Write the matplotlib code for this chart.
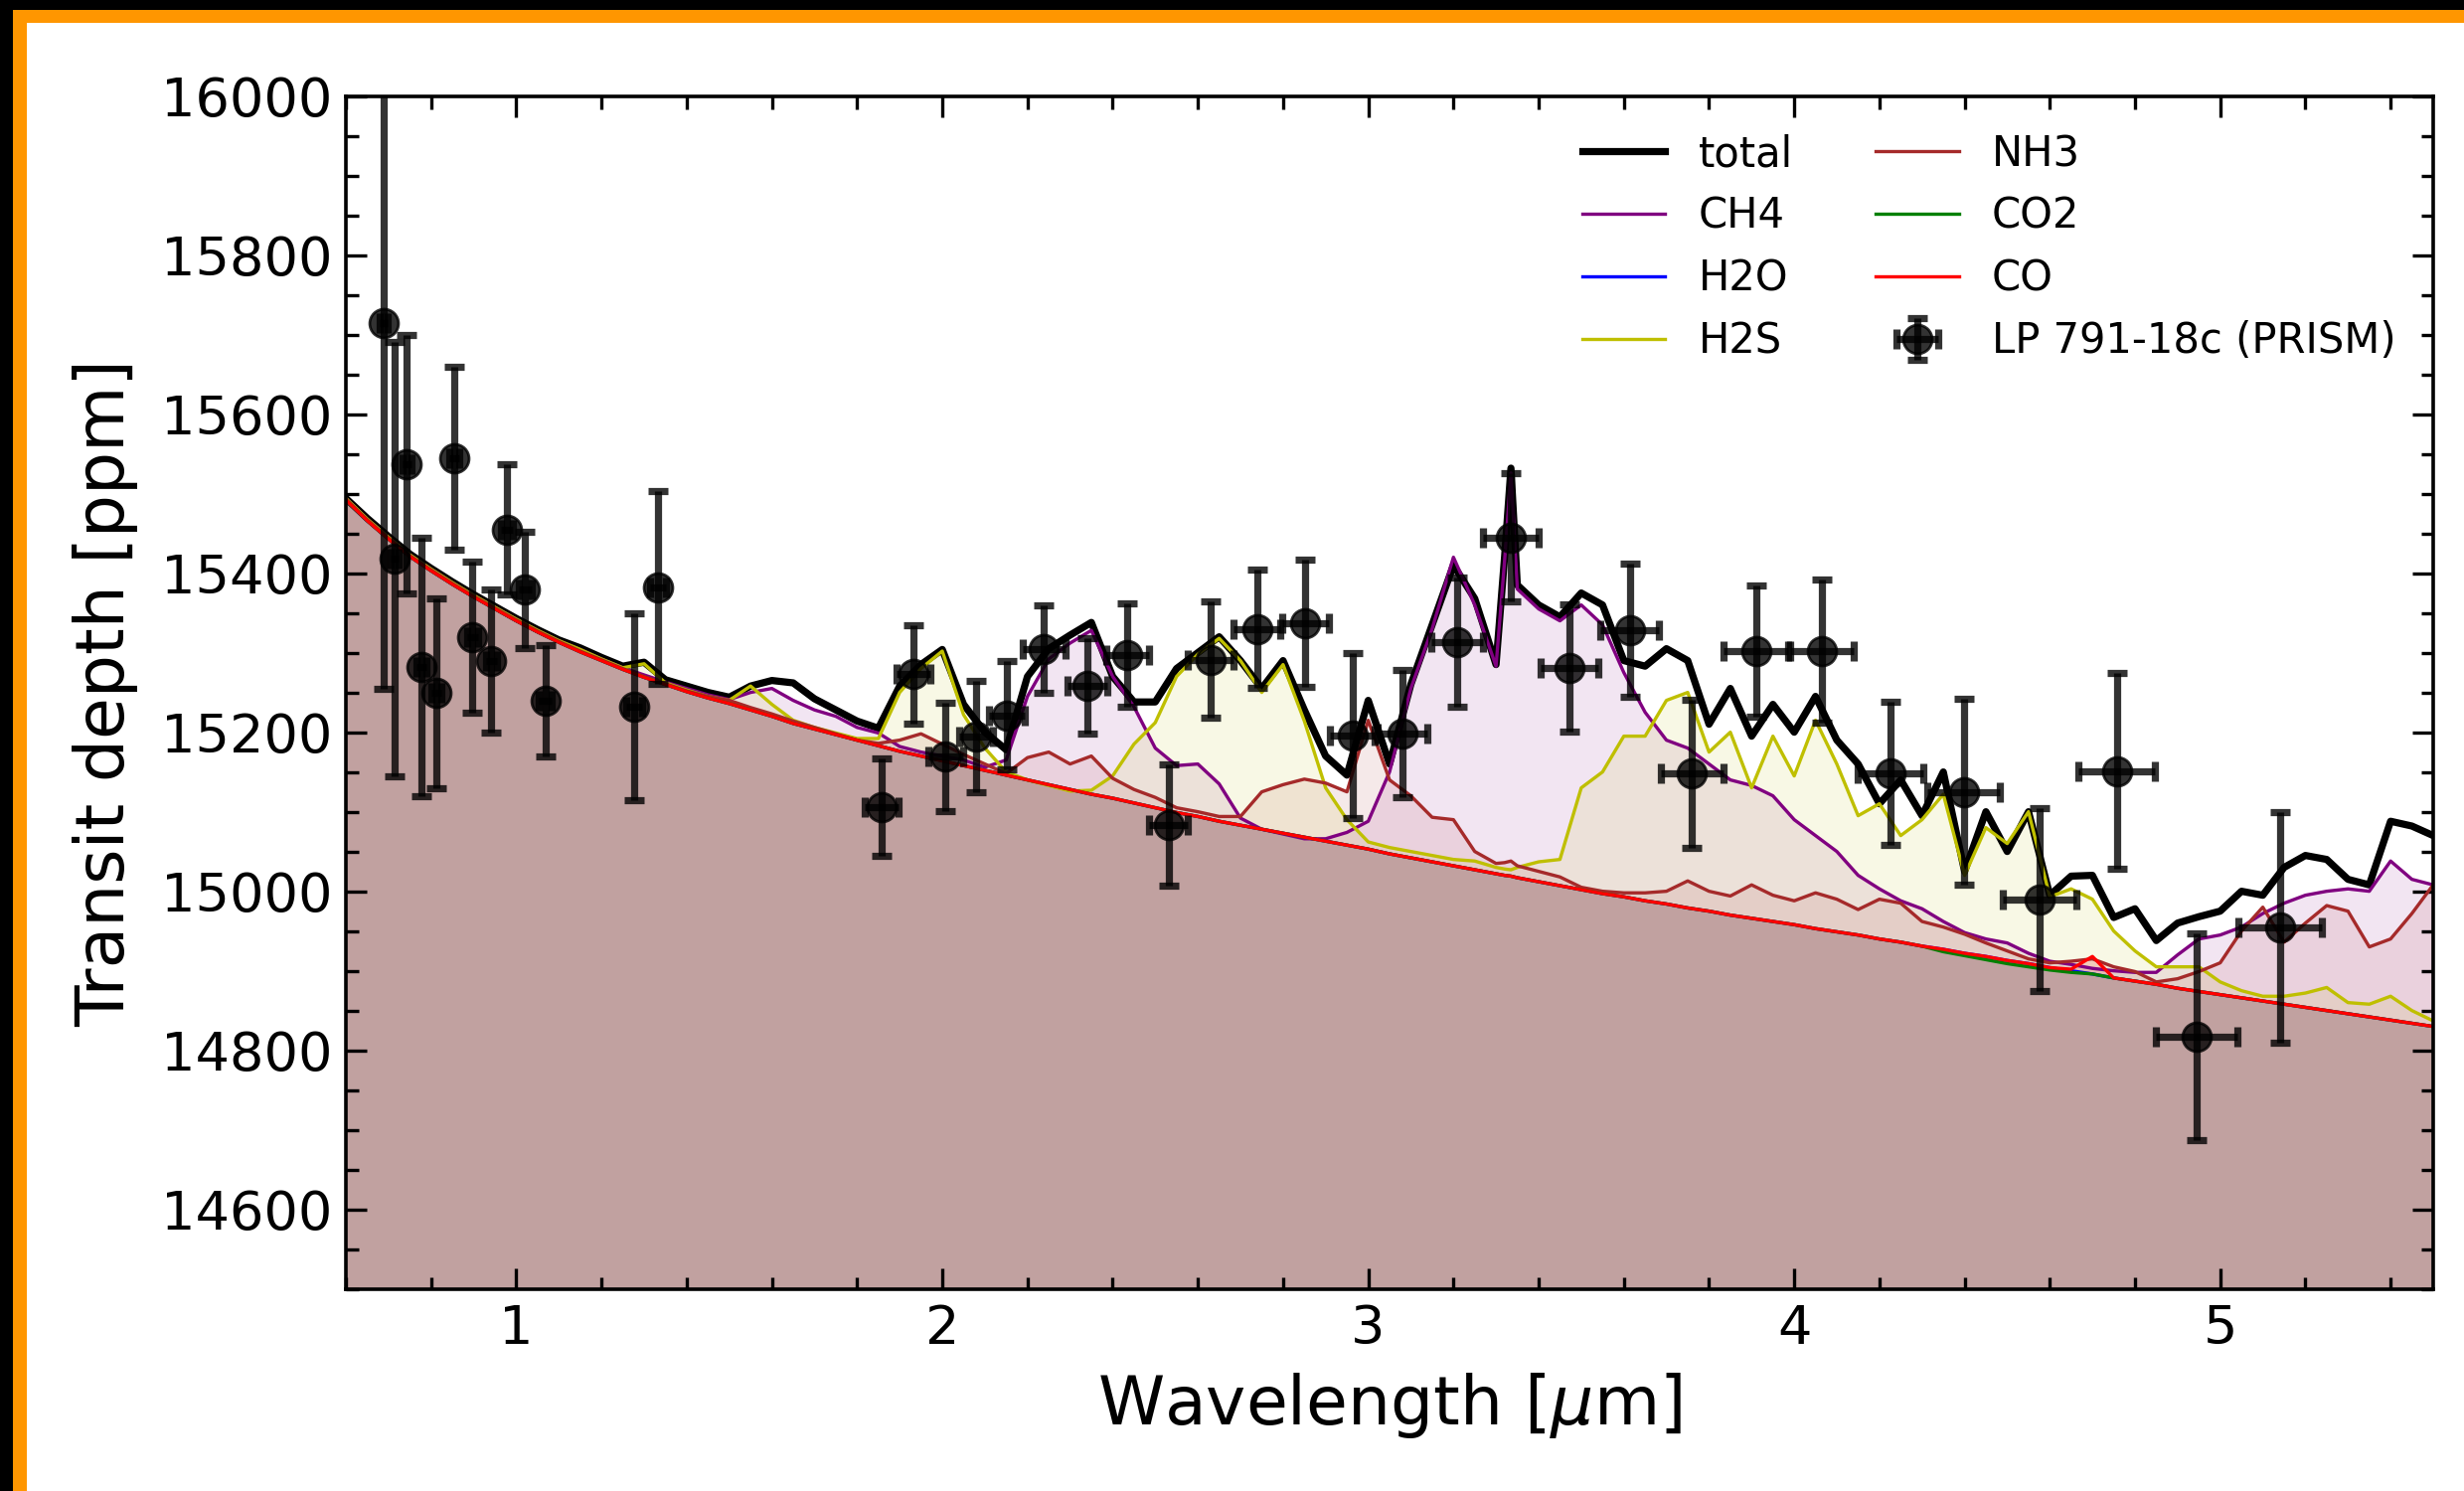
import matplotlib.pyplot as plt
from matplotlib.patches import Rectangle
from matplotlib.ticker import MultipleLocator

# model wavelength grid [micron]
wavelength = [
    0.60, 0.65, 0.70, 0.75, 0.80, 0.85, 0.90, 0.95, 1.00, 1.05,
    1.10, 1.15, 1.20, 1.25, 1.30, 1.35, 1.40, 1.45, 1.50, 1.55,
    1.60, 1.65, 1.70, 1.75, 1.80, 1.85, 1.90, 1.95, 2.00, 2.05,
    2.10, 2.15, 2.20, 2.25, 2.30, 2.35, 2.40, 2.45, 2.50, 2.55,
    2.60, 2.65, 2.70, 2.75, 2.80, 2.85, 2.90, 2.95, 3.00, 3.05,
    3.10, 3.15, 3.20, 3.25, 3.30, 3.32, 3.335, 3.35, 3.40, 3.45,
    3.50, 3.55, 3.60, 3.65, 3.70, 3.75, 3.80, 3.85, 3.90, 3.95,
    4.00, 4.05, 4.10, 4.15, 4.20, 4.25, 4.30, 4.35, 4.40, 4.45,
    4.50, 4.55, 4.60, 4.65, 4.70, 4.75, 4.80, 4.85, 4.90, 4.95,
    5.00, 5.05, 5.10, 5.15, 5.20, 5.25, 5.30, 5.35, 5.40, 5.45,
    5.50]

# transit depth of the full model and of each molecule alone [ppm]
total_depth = [
    15494, 15469, 15446, 15424, 15406, 15389, 15373, 15358, 15343, 15329,
    15316, 15306, 15294, 15283, 15288, 15266, 15258, 15250, 15244, 15258,
    15265, 15262, 15242, 15228, 15214, 15205, 15258, 15285, 15304, 15235,
    15200, 15178, 15270, 15305, 15322, 15338, 15270, 15238, 15238, 15280,
    15300, 15320, 15290, 15255, 15290, 15228, 15170, 15146, 15240, 15160,
    15260, 15335, 15410, 15368, 15285, 15420, 15532, 15385, 15360, 15345,
    15375, 15360, 15290, 15283, 15305, 15290, 15210, 15255, 15195, 15235,
    15200, 15245, 15190, 15160, 15110, 15140, 15095, 15150, 15025, 15100,
    15050, 15100, 14995, 15019, 15020, 14967, 14978, 14938, 14960, 14968,
    14975, 15000, 14995, 15030, 15045, 15040, 15015, 15008, 15088, 15082,
    15070]

ch4_depth = [
    15494, 15468, 15445, 15423, 15405, 15388, 15372, 15357, 15342, 15328,
    15315, 15304, 15292, 15281, 15272, 15263, 15255, 15247, 15241, 15250,
    15255, 15240, 15228, 15220, 15206, 15199, 15182, 15175, 15170, 15165,
    15156, 15165, 15245, 15292, 15312, 15328, 15270, 15232, 15180, 15158,
    15160, 15135, 15092, 15078, 15072, 15066, 15066, 15074, 15088, 15150,
    15255, 15330, 15420, 15360, 15283, 15415, 15526, 15380, 15355, 15340,
    15360, 15335, 15275, 15225, 15190, 15180, 15160, 15140, 15133, 15120,
    15090, 15070, 15050, 15020, 15003, 14988, 14978, 14962, 14948, 14940,
    14935, 14922, 14912, 14908, 14903, 14900, 14898, 14898, 14920, 14940,
    14945, 14955, 14972, 14985, 14995, 15000, 15003, 15000, 15038, 15015,
    15008]

h2o_depth = [
    15492, 15466, 15443, 15421, 15403, 15386, 15370, 15355, 15340, 15326,
    15313, 15301, 15290, 15279, 15269, 15260, 15251, 15243, 15236, 15228,
    15220, 15211, 15204, 15197, 15190, 15183, 15176, 15170, 15164, 15158,
    15152, 15146, 15140, 15134, 15128, 15122, 15117, 15111, 15105, 15099,
    15094, 15088, 15083, 15078, 15073, 15068, 15063, 15058, 15053, 15047,
    15042, 15037, 15032, 15027, 15022, 15020, 15019, 15017, 15012, 15007,
    15002, 14997, 14993, 14988, 14984, 14979, 14975, 14970, 14966, 14962,
    14958, 14953, 14949, 14945, 14940, 14936, 14931, 14927, 14922, 14918,
    14913, 14909, 14904, 14900, 14896, 14891, 14887, 14883, 14878, 14874,
    14870, 14866, 14862, 14858, 14854, 14850, 14846, 14842, 14838, 14834,
    14830]

h2s_depth = [
    15494, 15468, 15445, 15423, 15405, 15388, 15372, 15357, 15342, 15328,
    15315, 15304, 15292, 15281, 15286, 15262, 15253, 15245, 15240, 15258,
    15235, 15215, 15206, 15199, 15192, 15192, 15250, 15280, 15302, 15222,
    15180, 15150, 15140, 15133, 15126, 15127, 15145, 15185, 15212, 15270,
    15298, 15318, 15290, 15250, 15285, 15214, 15130, 15090, 15062, 15055,
    15050, 15045, 15040, 15038, 15030, 15028, 15027, 15030, 15037, 15040,
    15130, 15150, 15195, 15195, 15240, 15250, 15175, 15200, 15130, 15195,
    15145, 15215, 15160, 15095, 15110, 15070, 15090, 15122, 15020, 15080,
    15060, 15100, 14993, 15003, 14990, 14950, 14925, 14905, 14905, 14905,
    14886, 14875, 14868, 14868, 14872, 14879, 14860, 14858, 14868, 14850,
    14837]

nh3_depth = [
    15493, 15467, 15444, 15422, 15404, 15387, 15371, 15356, 15341, 15327,
    15314, 15302, 15291, 15280, 15270, 15261, 15252, 15245, 15240, 15231,
    15223, 15214, 15206, 15198, 15190, 15186, 15190, 15198, 15185, 15172,
    15160, 15148, 15168, 15175, 15160, 15170, 15142, 15128, 15118, 15105,
    15100, 15094, 15094, 15125, 15134, 15141, 15136, 15125, 15215, 15140,
    15120, 15093, 15090, 15050, 15035, 15036, 15038, 15032, 15025, 15018,
    15005, 15000, 14998, 14998, 15000, 15013, 15000, 14994, 15008, 14995,
    14988, 14998, 14990, 14977, 14990, 14985, 14962, 14955, 14946, 14935,
    14925, 14915, 14910, 14912, 14915, 14905, 14899, 14886, 14890, 14899,
    14910, 14950, 14980, 14936, 14960, 14982, 14975, 14930, 14940, 14972,
    15008]

co2_depth = [
    15492, 15466, 15443, 15421, 15403, 15386, 15370, 15355, 15340, 15326,
    15313, 15301, 15290, 15279, 15269, 15260, 15251, 15243, 15236, 15228,
    15220, 15211, 15204, 15197, 15190, 15183, 15176, 15170, 15164, 15158,
    15152, 15146, 15140, 15134, 15128, 15122, 15117, 15111, 15105, 15099,
    15094, 15088, 15083, 15078, 15073, 15068, 15063, 15058, 15053, 15047,
    15042, 15037, 15032, 15027, 15022, 15020, 15019, 15017, 15012, 15007,
    15002, 14997, 14993, 14988, 14984, 14979, 14975, 14970, 14966, 14962,
    14958, 14953, 14949, 14945, 14940, 14936, 14931, 14924, 14919, 14914,
    14909, 14905, 14901, 14898, 14896, 14891, 14887, 14883, 14878, 14874,
    14870, 14866, 14862, 14858, 14854, 14850, 14846, 14842, 14838, 14834,
    14830]

co_depth = [
    15492, 15466, 15443, 15421, 15403, 15386, 15370, 15355, 15340, 15326,
    15313, 15301, 15290, 15279, 15269, 15260, 15251, 15243, 15236, 15228,
    15220, 15211, 15204, 15197, 15190, 15183, 15176, 15170, 15164, 15158,
    15152, 15146, 15140, 15134, 15128, 15122, 15117, 15111, 15105, 15099,
    15094, 15088, 15083, 15078, 15073, 15068, 15063, 15058, 15053, 15047,
    15042, 15037, 15032, 15027, 15022, 15020, 15019, 15017, 15012, 15007,
    15002, 14997, 14993, 14988, 14984, 14979, 14975, 14970, 14966, 14962,
    14958, 14953, 14949, 14945, 14940, 14936, 14931, 14927, 14922, 14918,
    14913, 14909, 14904, 14902, 14918, 14891, 14887, 14883, 14878, 14874,
    14870, 14866, 14862, 14858, 14854, 14850, 14846, 14842, 14838, 14834,
    14830]

# NIRSpec PRISM spectrum
obs_wl = [0.689, 0.714, 0.743, 0.777, 0.813, 0.854, 0.897, 0.941, 0.977,
          1.021, 1.068, 1.277, 1.332, 1.857, 1.933, 2.008, 2.080, 2.151,
          2.239, 2.340, 2.435, 2.531, 2.630, 2.739, 2.852, 2.963, 3.081,
          3.209, 3.335, 3.472, 3.614, 3.760, 3.910, 4.065, 4.226, 4.398,
          4.576, 4.757, 4.945, 5.140]
obs_wl_err = [0.010, 0.010, 0.011, 0.011, 0.012, 0.012, 0.013, 0.013, 0.014,
              0.015, 0.015, 0.018, 0.019, 0.040, 0.040, 0.040, 0.040, 0.042,
              0.050, 0.047, 0.050, 0.045, 0.053, 0.055, 0.055, 0.052, 0.058,
              0.060, 0.066, 0.067, 0.069, 0.073, 0.075, 0.075, 0.077, 0.085,
              0.087, 0.089, 0.095, 0.098]
obs_depth = [15715, 15418, 15537, 15282, 15249, 15544, 15319, 15289, 15455,
             15379, 15240, 15232, 15382, 15106, 15273, 15169, 15195, 15221,
             15305, 15258, 15297, 15083, 15291, 15330, 15337, 15196, 15198,
             15313, 15445, 15281, 15328, 15148, 15302, 15302, 15148, 15125,
             14990, 15151, 14817, 14955]
obs_depth_err = [460, 273, 163, 163, 119, 115, 95, 90, 82,
                 73, 70, 117, 121, 61, 62, 68, 70, 68,
                 55, 60, 65, 76, 73, 74, 80, 104, 80,
                 81, 81, 80, 84, 93, 83, 90, 90, 117,
                 115, 123, 130, 145]

molecules = ['CH4', 'H2O', 'H2S', 'NH3', 'CO2', 'CO']
molecule_depths = [ch4_depth, h2o_depth, h2s_depth, nh3_depth, co2_depth, co_depth]
molecule_colors = ['purple', 'blue', 'y', 'brown', 'green', 'red']

wl_min, wl_max = 0.6, 5.5
depth_min, depth_max = 14500, 16000

W, H = 2479, 1500
fig = plt.figure(figsize=(W / 200, H / 200), dpi=200)

# frame strips along the top and left edges
fig.add_artist(Rectangle((0, 0), 13.4 / W, 1, transform=fig.transFigure,
                         color='black', lw=0))
fig.add_artist(Rectangle((0, 1 - 10 / H), 1, 10 / H, transform=fig.transFigure,
                         color='black', lw=0))
fig.add_artist(Rectangle((13.4 / W, 1 - 22.5 / H), 1, 12.5 / H,
                         transform=fig.transFigure, color='#ff9600', lw=0))
fig.add_artist(Rectangle((13.4 / W, 0), 13.4 / W, 1 - 10 / H,
                         transform=fig.transFigure, color='#ff9600', lw=0))

ax = fig.add_axes([348 / W, 1 - 1296.7 / H, 2100 / W, 1200.2 / H])

ax.plot(wavelength, total_depth, color='k', lw=2.6, label='total')
for name, depth, col in zip(molecules, molecule_depths, molecule_colors):
    ax.plot(wavelength, depth, color=col, lw=1.2, label=name)
    ax.fill_between(wavelength, depth_min, depth, color=col, alpha=0.1, lw=0)

ax.errorbar(obs_wl, obs_depth, yerr=obs_depth_err, xerr=obs_wl_err, fmt='o',
            color='k', ms=10.4, elinewidth=2.6, capsize=3.6, capthick=2.6,
            alpha=0.8, zorder=10, label='LP 791-18c (PRISM)')

ax.set_xlim(wl_min, wl_max)
ax.set_ylim(depth_min, depth_max)
ax.xaxis.set_major_locator(MultipleLocator(1))
ax.xaxis.set_minor_locator(MultipleLocator(0.2))
ax.yaxis.set_major_locator(MultipleLocator(200))
ax.yaxis.set_minor_locator(MultipleLocator(50))
ax.tick_params(which='both', direction='in', top=True, right=True,
               width=1.2, labelsize=19.5, pad=5)
ax.tick_params(which='major', length=7.5)
ax.tick_params(which='minor', length=4.5)
for sp in ax.spines.values():
    sp.set_linewidth(1.3)

ax.set_xlabel(r'Wavelength [$\mu$m]', fontsize=24.5, labelpad=6)
ax.set_ylabel('Transit depth [ppm]', fontsize=24.5, labelpad=8)

ax.legend(ncol=2, frameon=False, fontsize=15, labelspacing=0.5,
          loc='upper right')

fig.savefig('out.png', dpi=200)
